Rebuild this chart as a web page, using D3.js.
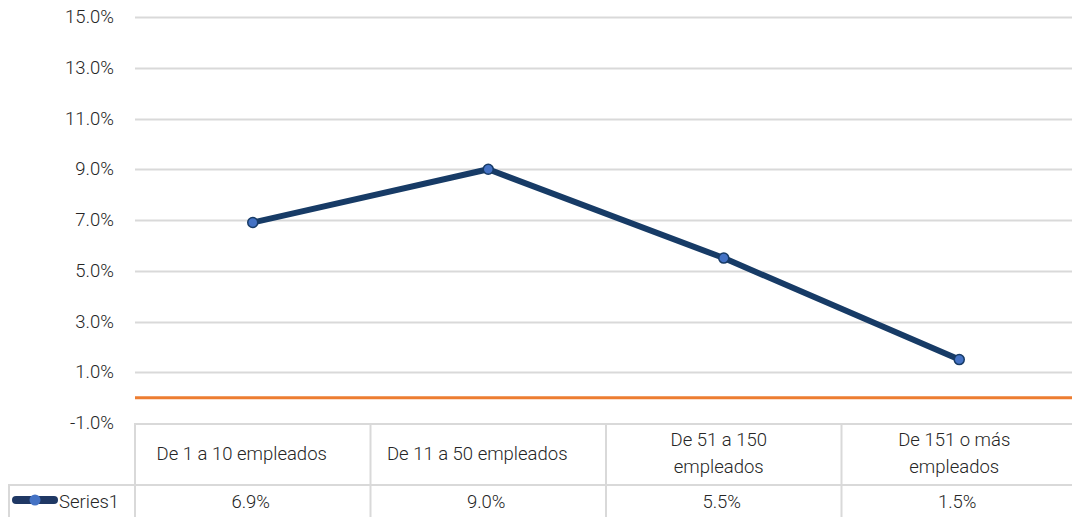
<!DOCTYPE html>
<html>
<head>
<meta charset="utf-8">
<script src="https://cdn.jsdelivr.net/npm/d3@7"></script>
<style>
  body { margin: 0; background: #fff; }
  svg text { font-family: Roboto, sans-serif; font-weight: 300; fill: #262626; }
</style>
</head>
<body>
<svg id="chart" width="1072" height="517"></svg>
<script>
// Chart data
const categories = [["De 1 a 10 empleados"], ["De 11 a 50 empleados"], ["De 51 a 150", "empleados"], ["De 151 o más", "empleados"]];
const values = [0.069, 0.090, 0.055, 0.015];
const valueLabels = ["6.9%", "9.0%", "5.5%", "1.5%"];
const yTicks = [-0.01, 0.01, 0.03, 0.05, 0.07, 0.09, 0.11, 0.13, 0.15];
const seriesName = "Series1";

const svg = d3.select("#chart");
const plotLeft = 135, plotRight = 1077, plotTop = 17, plotBottom = 423;
const fontSize = "18.5px";

const x = d3.scaleBand()
  .domain(d3.range(categories.length))
  .range([plotLeft, plotRight]);

const y = d3.scaleLinear()
  .domain([-0.01, 0.15])
  .range([plotBottom, plotTop]);

// Gridlines
svg.selectAll(".grid")
  .data(yTicks.filter(t => t > -0.01))
  .enter()
  .append("line")
  .attr("x1", plotLeft).attr("x2", 1072)
  .attr("y1", d => Math.round(y(d)) + 0.5)
  .attr("y2", d => Math.round(y(d)) + 0.5)
  .attr("stroke", "#d9d9d9")
  .attr("stroke-width", 2);

// Tick labels
svg.selectAll(".ytick")
  .data(yTicks)
  .enter()
  .append("text")
  .attr("x", 114)
  .attr("y", d => y(d) + 6)
  .attr("text-anchor", "end")
  .style("font-size", fontSize)
  .text(d => d3.format(".1%")(d).replace("−", "-"));

// Zero line
svg.append("line")
  .attr("x1", plotLeft).attr("x2", 1072)
  .attr("y1", y(0)).attr("y2", y(0))
  .attr("stroke", "#ed7d31")
  .attr("stroke-width", 3);

// Data table
const tableColor = "#d9d9d9";
const rowTop = plotBottom, rowMid = 485, rowBot = 530;
svg.append("line").attr("x1", plotLeft).attr("x2", 1072).attr("y1", rowTop + 1).attr("y2", rowTop + 1)
  .attr("stroke", tableColor).attr("stroke-width", 2);
svg.append("line").attr("x1", 8).attr("x2", 1072).attr("y1", rowMid).attr("y2", rowMid)
  .attr("stroke", tableColor).attr("stroke-width", 2);
svg.append("line").attr("x1", 9).attr("x2", 9).attr("y1", rowMid).attr("y2", rowBot)
  .attr("stroke", tableColor).attr("stroke-width", 2);

svg.selectAll(".col")
  .data(d3.range(categories.length + 1))
  .enter()
  .append("line")
  .attr("x1", i => i < categories.length ? x(i) : plotRight)
  .attr("x2", i => i < categories.length ? x(i) : plotRight)
  .attr("y1", rowTop).attr("y2", rowBot)
  .attr("stroke", tableColor)
  .attr("stroke-width", 2);

categories.forEach((lines, i) => {
  const cx = x(i) + x.bandwidth() / 2;
  const shift = lines.length === 1 ? -11 : -5;
  const t = svg.append("text")
    .attr("text-anchor", "middle")
    .style("font-size", fontSize);
  const start = lines.length === 1 ? 460 : 446;
  lines.forEach((ln, j) => {
    t.append("tspan").attr("x", cx + shift).attr("y", start + j * 27).text(ln);
  });
  svg.append("text")
    .attr("x", cx - 2).attr("y", 508)
    .attr("text-anchor", "middle")
    .style("font-size", fontSize)
    .text(valueLabels[i]);
});

// Legend key in table
svg.append("line")
  .attr("x1", 16).attr("x2", 54).attr("y1", 500).attr("y2", 500)
  .attr("stroke", "#1f3864").attr("stroke-width", 8).attr("stroke-linecap", "round");
svg.append("circle")
  .attr("cx", 35).attr("cy", 500).attr("r", 5.5)
  .attr("fill", "#4472c4");
svg.append("text")
  .attr("x", 59).attr("y", 508)
  .style("font-size", fontSize)
  .text(seriesName);

// Series line
const line = d3.line()
  .x((d, i) => x(i) + x.bandwidth() / 2)
  .y(d => y(d));

svg.append("path")
  .datum(values)
  .attr("d", line)
  .attr("fill", "none")
  .attr("stroke", "#173b66")
  .attr("stroke-width", 6)
  .attr("stroke-linejoin", "round");

svg.selectAll(".pt")
  .data(values)
  .enter()
  .append("circle")
  .attr("cx", (d, i) => x(i) + x.bandwidth() / 2)
  .attr("cy", d => y(d))
  .attr("r", 5)
  .attr("fill", "#4472c4")
  .attr("stroke", "#173b66")
  .attr("stroke-width", 1.5);
</script>
</body>
</html>
